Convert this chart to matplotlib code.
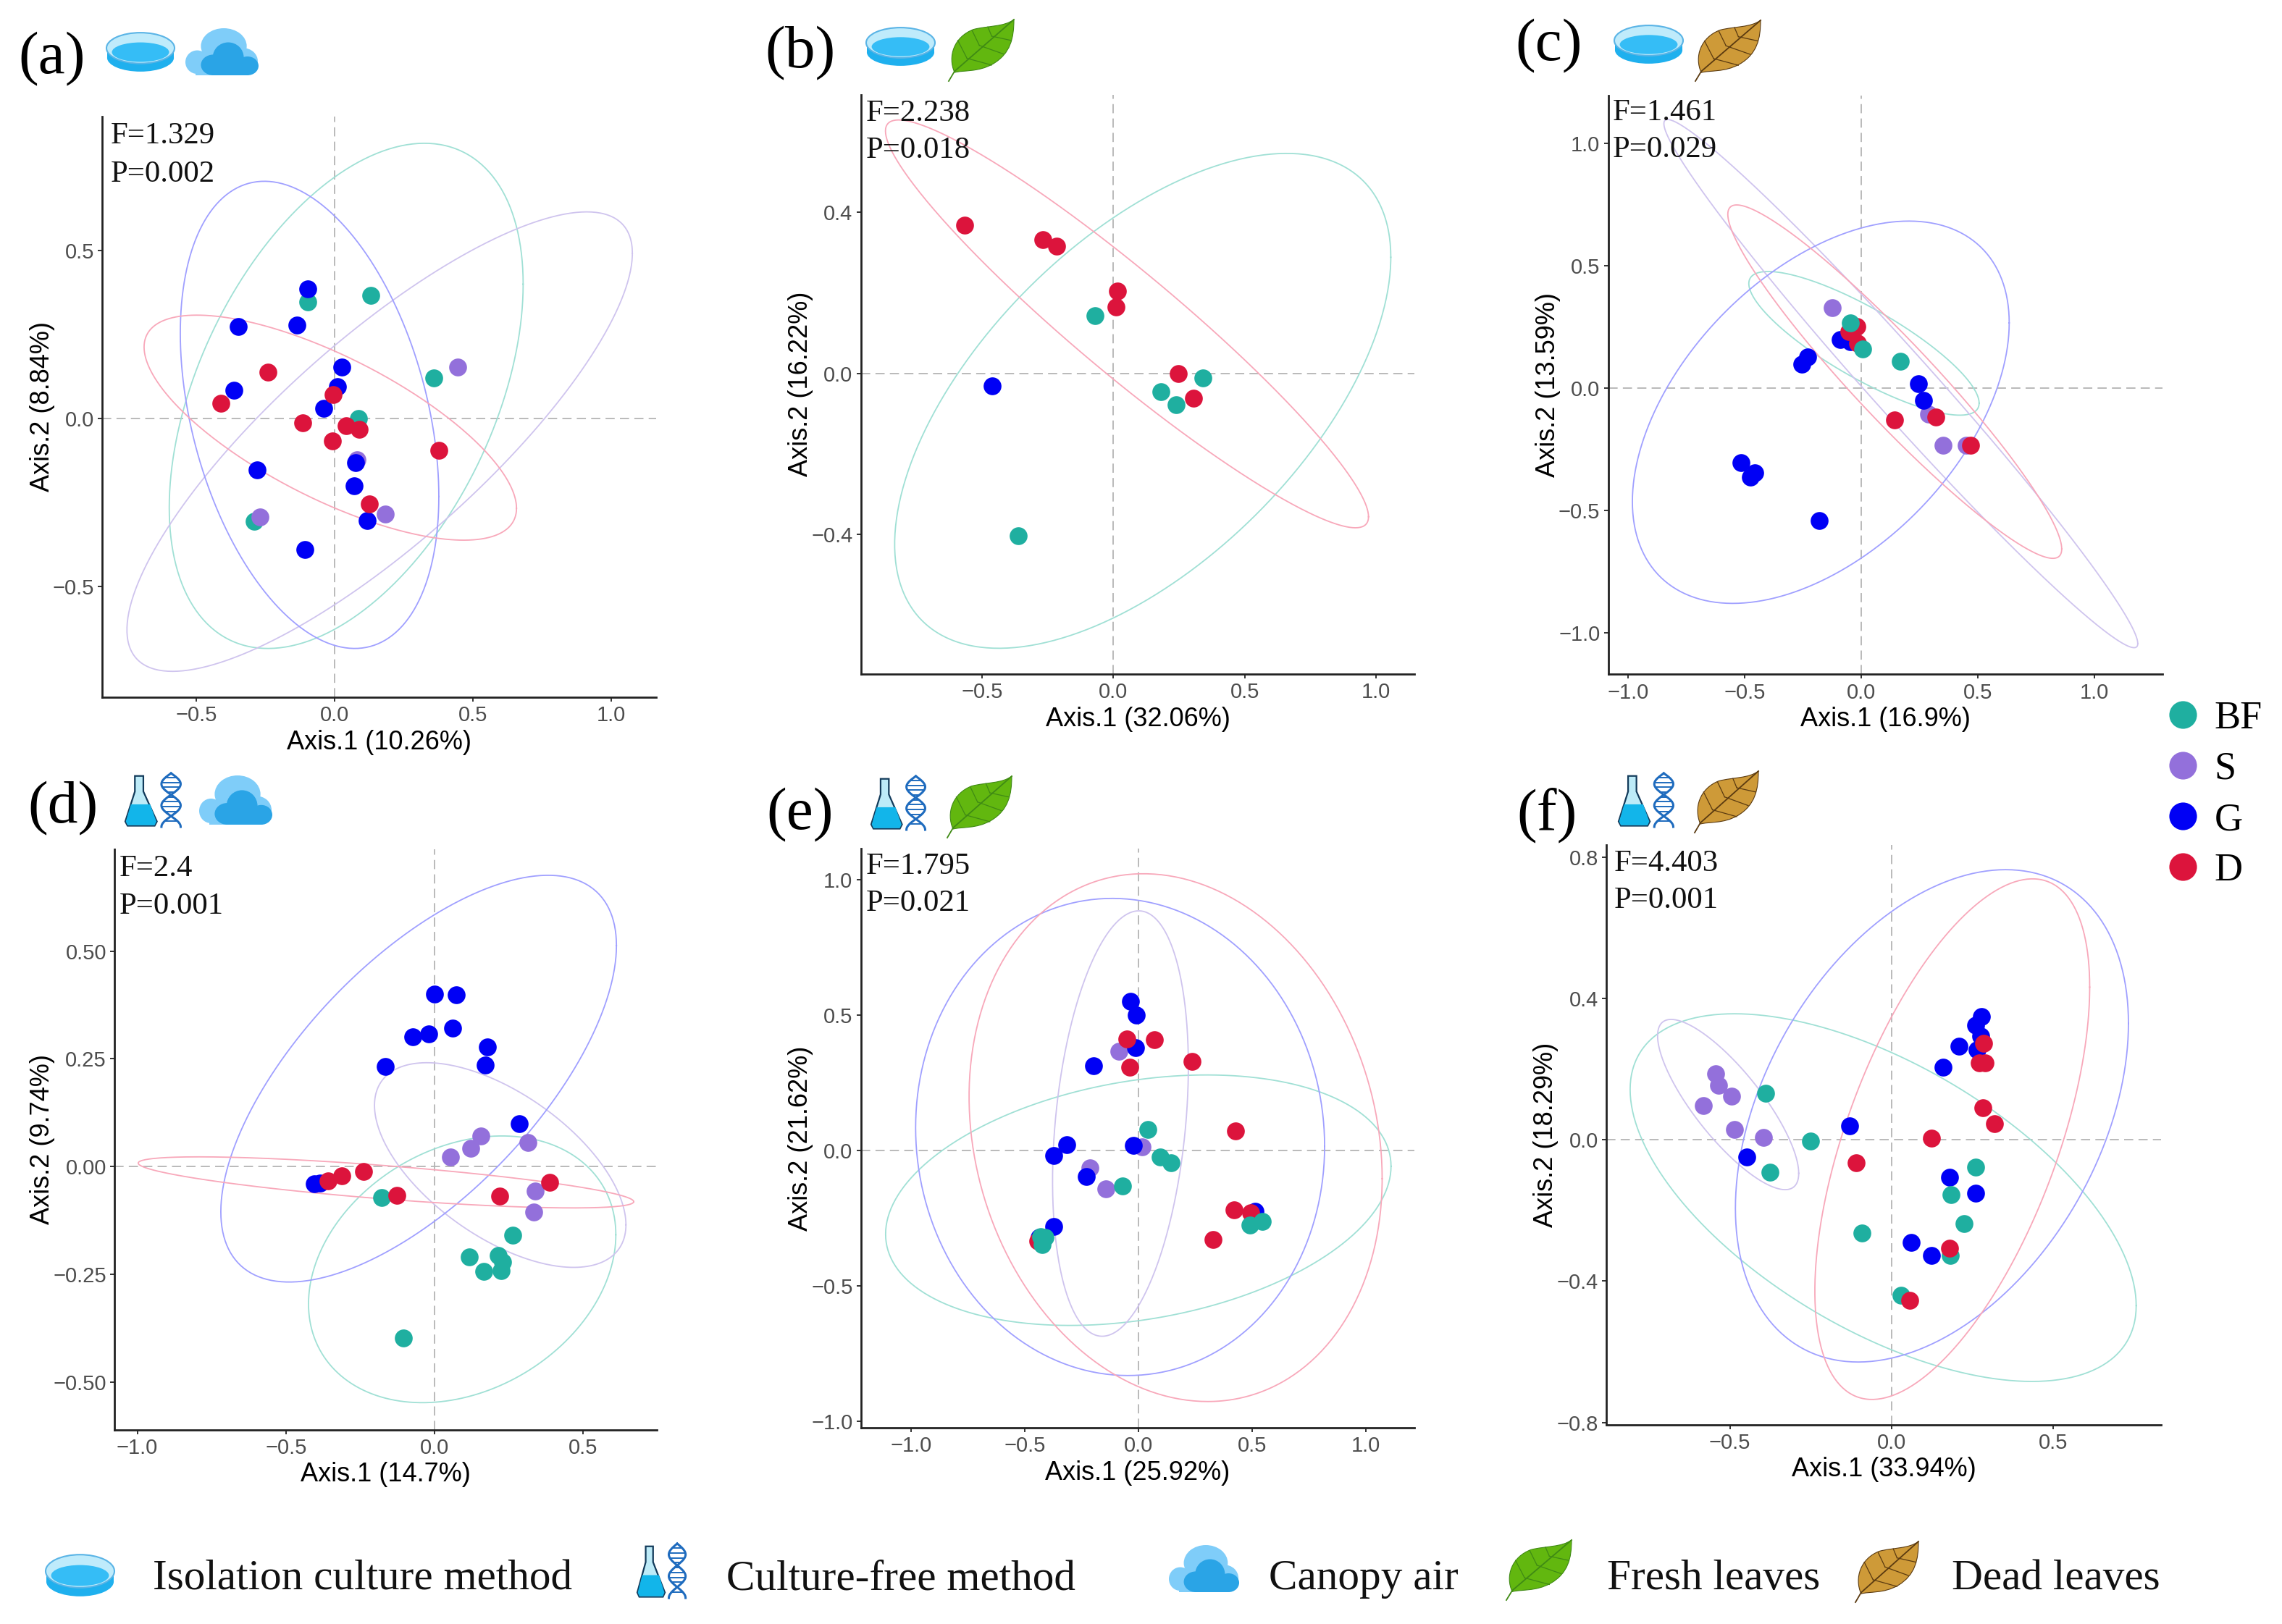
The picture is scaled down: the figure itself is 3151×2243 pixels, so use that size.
import numpy as np
import matplotlib
matplotlib.use("Agg")
import matplotlib.pyplot as plt
from matplotlib.lines import Line2D
from matplotlib.patches import Ellipse, Polygon, PathPatch, Rectangle
from matplotlib.path import Path
from matplotlib.transforms import Affine2D

W, H = 3151, 2243
SANS = "Liberation Sans"
SERIF = "Liberation Serif"
plt.rcParams["font.family"] = SANS

groups = ["BF", "S", "G", "D"]
group_colors = ["#1FAFA0", "#9370DB", "#0000F5", "#DC143C"]
ellipse_colors = ["#A0E0D5", "#CFC4EE", "#A0A0FF", "#F8A8BA"]

# ---- panel (a)
a_BF = [(0.13, 0.366), (-0.098, 0.347), (0.358, 0.12), (0.086, 0.0), (-0.291, -0.305)]
a_S = [(0.444, 0.153), (0.082, -0.122), (0.184, -0.284), (-0.27, -0.293)]
a_G = [(-0.098, 0.385), (-0.349, 0.274), (-0.137, 0.278), (0.025, 0.153), (0.011, 0.095), (-0.363, 0.084),
       (-0.039, 0.03), (-0.281, -0.154), (0.075, -0.131), (0.072, -0.2), (0.119, -0.304), (-0.107, -0.39)]
a_D = [(-0.242, 0.138), (-0.411, 0.046), (-0.005, 0.071), (-0.114, -0.013), (0.042, -0.022), (0.088, -0.032),
       (-0.007, -0.066), (0.377, -0.094), (0.125, -0.254)]
a_ell_BF = (-0.598, 0.682, -0.684, 0.818, 0.325)
a_ell_S = (-0.751, 1.077, -0.752, 0.614, 0.912)
a_ell_G = (-0.558, 0.377, -0.684, 0.705, -0.254)
a_ell_D = (-0.689, 0.658, -0.362, 0.307, -0.498)

# ---- panel (b)
b_BF = [(-0.07, 0.144), (0.34, -0.012), (0.181, -0.045), (0.238, -0.078), (-0.362, -0.402)]
b_S = []
b_G = [(-0.462, -0.031)]
b_D = [(-0.566, 0.367), (-0.27, 0.332), (-0.216, 0.315), (0.015, 0.205), (0.009, 0.165), (0.246, 0.0), (0.305, -0.061)]
b_ell_BF = (-0.834, 1.057, -0.682, 0.546, 0.66)
b_ell_D = (-0.869, 0.972, -0.383, 0.629, -0.819)

# ---- panel (c)
c_BF = [(-0.048, 0.267), (0.006, 0.16), (0.168, 0.108)]
c_S = [(-0.123, 0.328), (0.287, -0.108), (0.349, -0.233), (0.449, -0.233)]
c_G = [(-0.091, 0.198), (-0.046, 0.189), (-0.256, 0.097), (-0.231, 0.127), (0.245, 0.017), (0.268, -0.052),
       (-0.514, -0.304), (-0.455, -0.347), (-0.474, -0.363), (-0.181, -0.542)]
c_D = [(-0.052, 0.229), (-0.019, 0.25), (-0.015, 0.182), (0.143, -0.13), (0.32, -0.118), (0.468, -0.233)]
c_ell_BF = (-0.482, 0.505, -0.111, 0.476, -0.399)
c_ell_S = (-0.846, 1.185, -1.061, 1.097, -0.83)
c_ell_G = (-0.981, 0.634, -0.88, 0.682, 0.204)
c_ell_D = (-0.572, 0.859, -0.696, 0.748, -0.534)

# ---- panel (d)
d_BF = [(-0.179, -0.072), (0.263, -0.16), (0.116, -0.21), (0.215, -0.206), (0.23, -0.222), (0.165, -0.244),
        (0.225, -0.242), (-0.106, -0.398)]
d_S = [(0.155, 0.071), (0.122, 0.042), (0.054, 0.022), (0.315, 0.055), (0.338, -0.057), (0.334, -0.105)]
d_G = [(0.0, 0.4), (0.072, 0.399), (0.062, 0.321), (-0.02, 0.307), (-0.072, 0.301), (0.179, 0.277), (0.171, 0.235),
       (-0.165, 0.233), (0.284, 0.099), (-0.405, -0.04), (-0.385, -0.038)]
d_D = [(-0.24, -0.012), (-0.312, -0.022), (-0.359, -0.033), (-0.127, -0.067), (0.22, -0.069), (0.387, -0.036)]
d_ell_BF = (-0.424, 0.61, -0.548, 0.071, 0.227)
d_ell_S = (-0.202, 0.644, -0.234, 0.241, -0.026)
d_ell_G = (-0.719, 0.612, -0.268, 0.676, 0.382)
d_ell_D = (-0.997, 0.67, -0.096, 0.0225, -0.793)

# ---- panel (e)
e_BF = [(0.041, 0.077), (0.096, -0.025), (0.145, -0.045), (-0.07, -0.132), (0.49, -0.276), (0.546, -0.261),
        (-0.429, -0.317), (-0.409, -0.322), (-0.422, -0.347)]
e_S = [(-0.085, 0.367), (0.017, 0.014), (-0.213, -0.064), (-0.143, -0.141)]
e_G = [(-0.034, 0.55), (-0.009, 0.5), (-0.013, 0.38), (-0.198, 0.313), (-0.313, 0.021), (-0.373, -0.02),
       (-0.021, 0.02), (-0.23, -0.095), (-0.373, -0.281), (-0.435, -0.322), (0.514, -0.224)]
e_D = [(-0.051, 0.412), (0.07, 0.41), (0.237, 0.329), (-0.036, 0.308), (0.426, 0.073), (0.422, -0.22),
       (0.495, -0.231), (0.328, -0.329), (-0.441, -0.335)]
e_ell_BF = (-1.111, 1.111, -0.646, 0.279, 0.301)
e_ell_S = (-0.377, 0.22, -0.686, 0.885, 0.002)
e_ell_G = (-0.979, 0.819, -0.831, 0.931, -0.115)
e_ell_D = (-0.744, 1.072, -0.927, 1.022, 0.023)

# ---- panel (f)
f_BF = [(-0.39, 0.132), (-0.377, -0.091), (-0.251, -0.003), (0.261, -0.078), (0.185, -0.155), (0.225, -0.238),
        (-0.092, -0.264), (0.182, -0.327), (0.029, -0.44)]
f_S = [(-0.544, 0.188), (-0.535, 0.154), (-0.495, 0.124), (-0.583, 0.098), (-0.486, 0.03), (-0.396, 0.007)]
f_G = [(0.278, 0.35), (0.261, 0.324), (0.276, 0.293), (0.266, 0.255), (0.209, 0.266), (0.159, 0.206),
       (-0.129, 0.04), (-0.447, -0.049), (0.18, -0.106), (0.26, -0.151), (0.062, -0.291), (0.125, -0.327)]
f_D = [(0.285, 0.273), (0.272, 0.217), (0.29, 0.217), (0.284, 0.091), (0.32, 0.045), (0.125, 0.004),
       (-0.11, -0.065), (0.18, -0.306), (0.056, -0.455)]
f_ell_BF = (-0.809, 0.758, -0.684, 0.357, -0.486)
f_ell_S = (-0.724, -0.287, -0.141, 0.341, -0.682)
f_ell_G = (-0.483, 0.734, -0.629, 0.765, 0.354)
f_ell_D = (-0.237, 0.614, -0.735, 0.739, 0.437)

# ---- panel-level text and scales
panel_letters = ["(a)", "(b)", "(c)", "(d)", "(e)", "(f)"]
f_texts = ["F=1.329", "F=2.238", "F=1.461", "F=2.4", "F=1.795", "F=4.403"]
p_texts = ["P=0.002", "P=0.018", "P=0.029", "P=0.001", "P=0.021", "P=0.001"]
x_labels = ["Axis.1 (10.26%)", "Axis.1 (32.06%)", "Axis.1 (16.9%)", "Axis.1 (14.7%)", "Axis.1 (25.92%)", "Axis.1 (33.94%)"]
y_labels = ["Axis.2 (8.84%)", "Axis.2 (16.22%)", "Axis.2 (13.59%)", "Axis.2 (9.74%)", "Axis.2 (21.62%)", "Axis.2 (18.29%)"]
x_ticks = [[-0.5, 0, 0.5, 1.0], [-0.5, 0, 0.5, 1.0], [-1.0, -0.5, 0, 0.5, 1.0], [-1.0, -0.5, 0, 0.5], [-1.0, -0.5, 0, 0.5, 1.0], [-0.5, 0, 0.5]]
y_ticks = [[-0.5, 0, 0.5], [-0.4, 0, 0.4], [-1.0, -0.5, 0, 0.5, 1.0], [-0.5, -0.25, 0, 0.25, 0.5], [-1.0, -0.5, 0, 0.5, 1.0], [-0.8, -0.4, 0, 0.4, 0.8]]
y_fmt = ["%.1f", "%.1f", "%.1f", "%.2f", "%.1f", "%.1f"]
x_lims = [(-0.84, 1.163), (-0.963, 1.148), (-1.085, 1.291), (-1.077, 0.749), (-1.22, 1.215), (-0.883, 0.835)]
y_lims = [(-0.829, 0.898), (-0.746, 0.692), (-1.17, 1.196), (-0.611, 0.737), (-1.024, 1.115), (-0.806, 0.835)]

points = [
    {"BF": a_BF, "S": a_S, "G": a_G, "D": a_D},
    {"BF": b_BF, "S": b_S, "G": b_G, "D": b_D},
    {"BF": c_BF, "S": c_S, "G": c_G, "D": c_D},
    {"BF": d_BF, "S": d_S, "G": d_G, "D": d_D},
    {"BF": e_BF, "S": e_S, "G": e_G, "D": e_D},
    {"BF": f_BF, "S": f_S, "G": f_G, "D": f_D},
]
ellipses = [
    {"BF": a_ell_BF, "S": a_ell_S, "G": a_ell_G, "D": a_ell_D},
    {"BF": b_ell_BF, "D": b_ell_D},
    {"BF": c_ell_BF, "S": c_ell_S, "G": c_ell_G, "D": c_ell_D},
    {"BF": d_ell_BF, "S": d_ell_S, "G": d_ell_G, "D": d_ell_D},
    {"BF": e_ell_BF, "S": e_ell_S, "G": e_ell_G, "D": e_ell_D},
    {"BF": f_ell_BF, "S": f_ell_S, "G": f_ell_G, "D": f_ell_D},
]
draw_order = [["BF", "S", "G", "D"], ["BF", "S", "G", "D"], ["S", "G", "D", "BF"],
              ["BF", "S", "G", "D"], ["S", "G", "D", "BF"], ["S", "G", "BF", "D"]]

# ---- layout in output pixels (left, right, top, bottom)
axes_px = [(141.3, 906, 160.7, 963), (1188.6, 1953.4, 130.6, 931), (2220.5, 2986, 131.6, 931.4),
           (158, 907.4, 1172.6, 1974.8), (1188.6, 1953.4, 1172, 1972), (2217.9, 2984, 1167, 1967.5)]
letter_px = [(25, 82), (1056, 74), (2092, 64), (38, 1117), (1058, 1126), (2094, 1126)]
stat_px = [(153, 188, 241), (1196, 157, 208), (2227, 156, 207), (165, 1200, 1252), (1196, 1197, 1248), (2229, 1193, 1244)]

fig = plt.figure(figsize=(W / 100, H / 100), dpi=100, facecolor="white")
ov = fig.add_axes([0, 0, 1, 1], zorder=5)
ov.set_xlim(0, W)
ov.set_ylim(H, 0)
ov.axis("off")
ov.patch.set_alpha(0)


def ellipse_path(box):
    xmin, xmax, ymin, ymax, xtop = box
    cx, a = (xmin + xmax) / 2, (xmax - xmin) / 2
    cy, b = (ymin + ymax) / 2, (ymax - ymin) / 2
    phase = np.arcsin((xtop - cx) / a)
    t = np.linspace(0, 2 * np.pi, 361)
    return cx + a * np.cos(t), cy + b * np.sin(t + phase)


for i in range(6):
    L, R, T, B = axes_px[i]
    ax = fig.add_axes([L / W, 1 - B / H, (R - L) / W, (B - T) / H], zorder=2)
    ax.set_xlim(*x_lims[i])
    ax.set_ylim(*y_lims[i])
    ax.axhline(0, color="#B4B4B4", lw=1.3, ls=(0, (7, 4)), zorder=1)
    ax.axvline(0, color="#B4B4B4", lw=1.3, ls=(0, (7, 4)), zorder=1)
    for g, ec in zip(groups, ellipse_colors):
        if g in ellipses[i]:
            ex, ey = ellipse_path(ellipses[i][g])
            ax.plot(ex, ey, color=ec, lw=1.3, zorder=2, clip_on=False)
    for z, g in enumerate(draw_order[i]):
        pts = points[i][g]
        if pts:
            xs, ys = zip(*pts)
            ax.scatter(xs, ys, s=315, color=group_colors[groups.index(g)], linewidths=0, zorder=3 + z)
    for side in ("top", "right"):
        ax.spines[side].set_visible(False)
    for side in ("left", "bottom"):
        ax.spines[side].set_linewidth(2.0)
        ax.spines[side].set_color("#222222")
    ax.set_xticks(x_ticks[i])
    ax.set_yticks(y_ticks[i])
    ax.set_xticklabels([("%.1f" % v).replace("-", "\u2212") for v in x_ticks[i]])
    ax.set_yticklabels([(y_fmt[i] % v).replace("-", "\u2212") for v in y_ticks[i]])
    ax.tick_params(axis="both", labelsize=21, labelcolor="#4D4D4D", color="#333333", length=4, width=1.4, pad=4)
    ax.set_xlabel(x_labels[i], fontsize=26, color="black", labelpad=4)
    ax.set_ylabel(y_labels[i], fontsize=26, color="black", labelpad=-2)
    ov.text(letter_px[i][0], letter_px[i][1], panel_letters[i], fontsize=60, family=SERIF, va="center", ha="left", color="black")
    ov.text(stat_px[i][0], stat_px[i][1], f_texts[i], fontsize=30.8, family=SERIF, va="center", ha="left", color="#111111")
    ov.text(stat_px[i][0], stat_px[i][2], p_texts[i], fontsize=30.8, family=SERIF, va="center", ha="left", color="#111111")


# ---- icons, drawn in a unit box mapped to a pixel rectangle
def box_tf(x0, x1, y0, y1):
    return Affine2D().scale(x1 - x0, y1 - y0).translate(x0, y0) + ov.transData


def petri(x0, x1, y0, y1):
    tf = box_tf(x0, x1, y0, y1)
    ov.add_patch(Ellipse((0.5, 0.64), 0.98, 0.68, fc="#1FB0EE", ec="none", transform=tf))
    ov.add_patch(Rectangle((0.01, 0.40), 0.98, 0.24, fc="#1FB0EE", ec="none", transform=tf))
    ov.add_patch(Ellipse((0.5, 0.40), 1.0, 0.76, fc="#BFEBFB", ec="#5AB4E6", lw=1.5, transform=tf))
    ov.add_patch(Ellipse((0.5, 0.50), 0.84, 0.48, fc="#35BDF6", ec="none", transform=tf))


def cloud(x0, x1, y0, y1):
    tf = box_tf(x0, x1, y0, y1)
    for cx, cy, w, h in [(0.16, 0.72, 0.32, 0.5), (0.52, 0.38, 0.62, 0.76), (0.78, 0.70, 0.40, 0.56)]:
        ov.add_patch(Ellipse((cx, cy), w, h, fc="#7FCDF9", ec="none", transform=tf))
    ov.add_patch(Rectangle((0.14, 0.7), 0.7, 0.3, fc="#7FCDF9", ec="none", transform=tf))
    for cx, cy, w, h in [(0.38, 0.78, 0.34, 0.44), (0.58, 0.62, 0.42, 0.64), (0.84, 0.80, 0.30, 0.40)]:
        ov.add_patch(Ellipse((cx, cy), w, h, fc="#2AA4E6", ec="none", transform=tf))
    ov.add_patch(Rectangle((0.38, 0.8), 0.46, 0.2, fc="#2AA4E6", ec="none", transform=tf))


def leaf(x0, x1, y0, y1, fill, dark):
    tf = box_tf(x0, x1, y0, y1)
    verts = [(0.09, 0.86), (-0.02, 0.60), (0.08, 0.28), (0.38, 0.16), (0.60, 0.10), (0.85, 0.12), (1.0, 0.0),
             (1.0, 0.30), (0.95, 0.55), (0.68, 0.72), (0.45, 0.86), (0.22, 0.82), (0.09, 0.86)]
    codes = [Path.MOVETO] + [Path.CURVE4] * 12
    ov.add_patch(PathPatch(Path(verts, codes), fc=fill, ec=dark, lw=0.8, transform=tf))
    ov.plot([0.0, 0.09, 1.0], [1.0, 0.84, 0.0], color=dark, lw=1.3, transform=tf)
    for sx, sy, ex, ey in [(0.28, 0.63, 0.14, 0.34), (0.28, 0.63, 0.66, 0.74), (0.47, 0.42, 0.36, 0.18),
                           (0.47, 0.42, 0.84, 0.56), (0.66, 0.27, 0.60, 0.12), (0.66, 0.27, 0.96, 0.34)]:
        ov.plot([sx, ex], [sy, ey], color=dark, lw=0.9, transform=tf)


def flask_dna(x0, x1, y0, y1):
    tf = box_tf(x0, x1, y0, y1)
    ov.add_patch(Polygon([(0.17, 0.05), (0.32, 0.05), (0.32, 0.34), (0.56, 0.90), (0.52, 0.98), (0.04, 0.98), (0.0, 0.90), (0.17, 0.34)],
                         closed=True, fc="#BDEBF8", ec="#123A5A", lw=1.6, transform=tf))
    ov.add_patch(Polygon([(0.10, 0.58), (0.44, 0.58), (0.55, 0.90), (0.52, 0.97), (0.04, 0.97), (0.01, 0.90)],
                         closed=True, fc="#12B5EA", ec="none", transform=tf))
    yy = np.linspace(0.0, 1.0, 80)
    ov.plot(0.81 + 0.17 * np.sin(yy * 2 * np.pi * 1.25), yy, color="#1E6BBE", lw=2.2, transform=tf)
    ov.plot(0.81 - 0.17 * np.sin(yy * 2 * np.pi * 1.25), yy, color="#1E6BBE", lw=2.2, transform=tf)
    for yr in np.arange(0.08, 0.98, 0.09):
        half = 0.17 * abs(np.sin(yr * 2 * np.pi * 1.25))
        ov.plot([0.81 - half, 0.81 + half], [yr, yr], color="#1E6BBE", lw=1.4, transform=tf)


GREEN = ("#62B70F", "#3F8A14")
GOLD = ("#CE9A38", "#5A3A10")
petri(147, 241, 44, 100); cloud(256, 358, 39, 104)
petri(1196, 1291, 37, 92); leaf(1310, 1400, 27, 112, *GREEN)
petri(2229, 2324, 34, 89); leaf(2341, 2431, 28, 112, *GOLD)
flask_dna(173, 251, 1068, 1142); cloud(275, 377, 1071, 1139)
flask_dna(1203, 1279, 1072, 1146); leaf(1308, 1397, 1072, 1157, *GREEN)
flask_dna(2235, 2312, 1068, 1142); leaf(2340, 2428, 1065, 1150, *GOLD)

# ---- bottom key
key_labels = ["Isolation culture method", "Culture-free method", "Canopy air", "Fresh leaves", "Dead leaves"]
key_px = [211, 1003, 1752, 2219, 2695]
for lab, xp in zip(key_labels, key_px):
    ov.text(xp, 2181, lab, fontsize=42.7, family=SERIF, va="center", ha="left", color="#111111")
petri(63, 158, 2146, 2206)
flask_dna(880, 948, 2132, 2207)
cloud(1614, 1712, 2134, 2199)
leaf(2080, 2170, 2127, 2210, *GREEN)
leaf(2562, 2649, 2129, 2213, *GOLD)

# ---- group legend
handles = [Line2D([], [], ls="none", marker="o", ms=27.5, mfc=c, mec="none") for c in group_colors]
leg = fig.legend(handles, groups, loc="upper left", bbox_to_anchor=(2987 / W, 1 - 967 / H), frameon=False,
                 prop={"family": SERIF, "size": 39}, labelspacing=0.365, handletextpad=0.30, handlelength=1.0,
                 borderpad=0, borderaxespad=0)

fig.savefig("out.png", dpi=100, facecolor="white")
